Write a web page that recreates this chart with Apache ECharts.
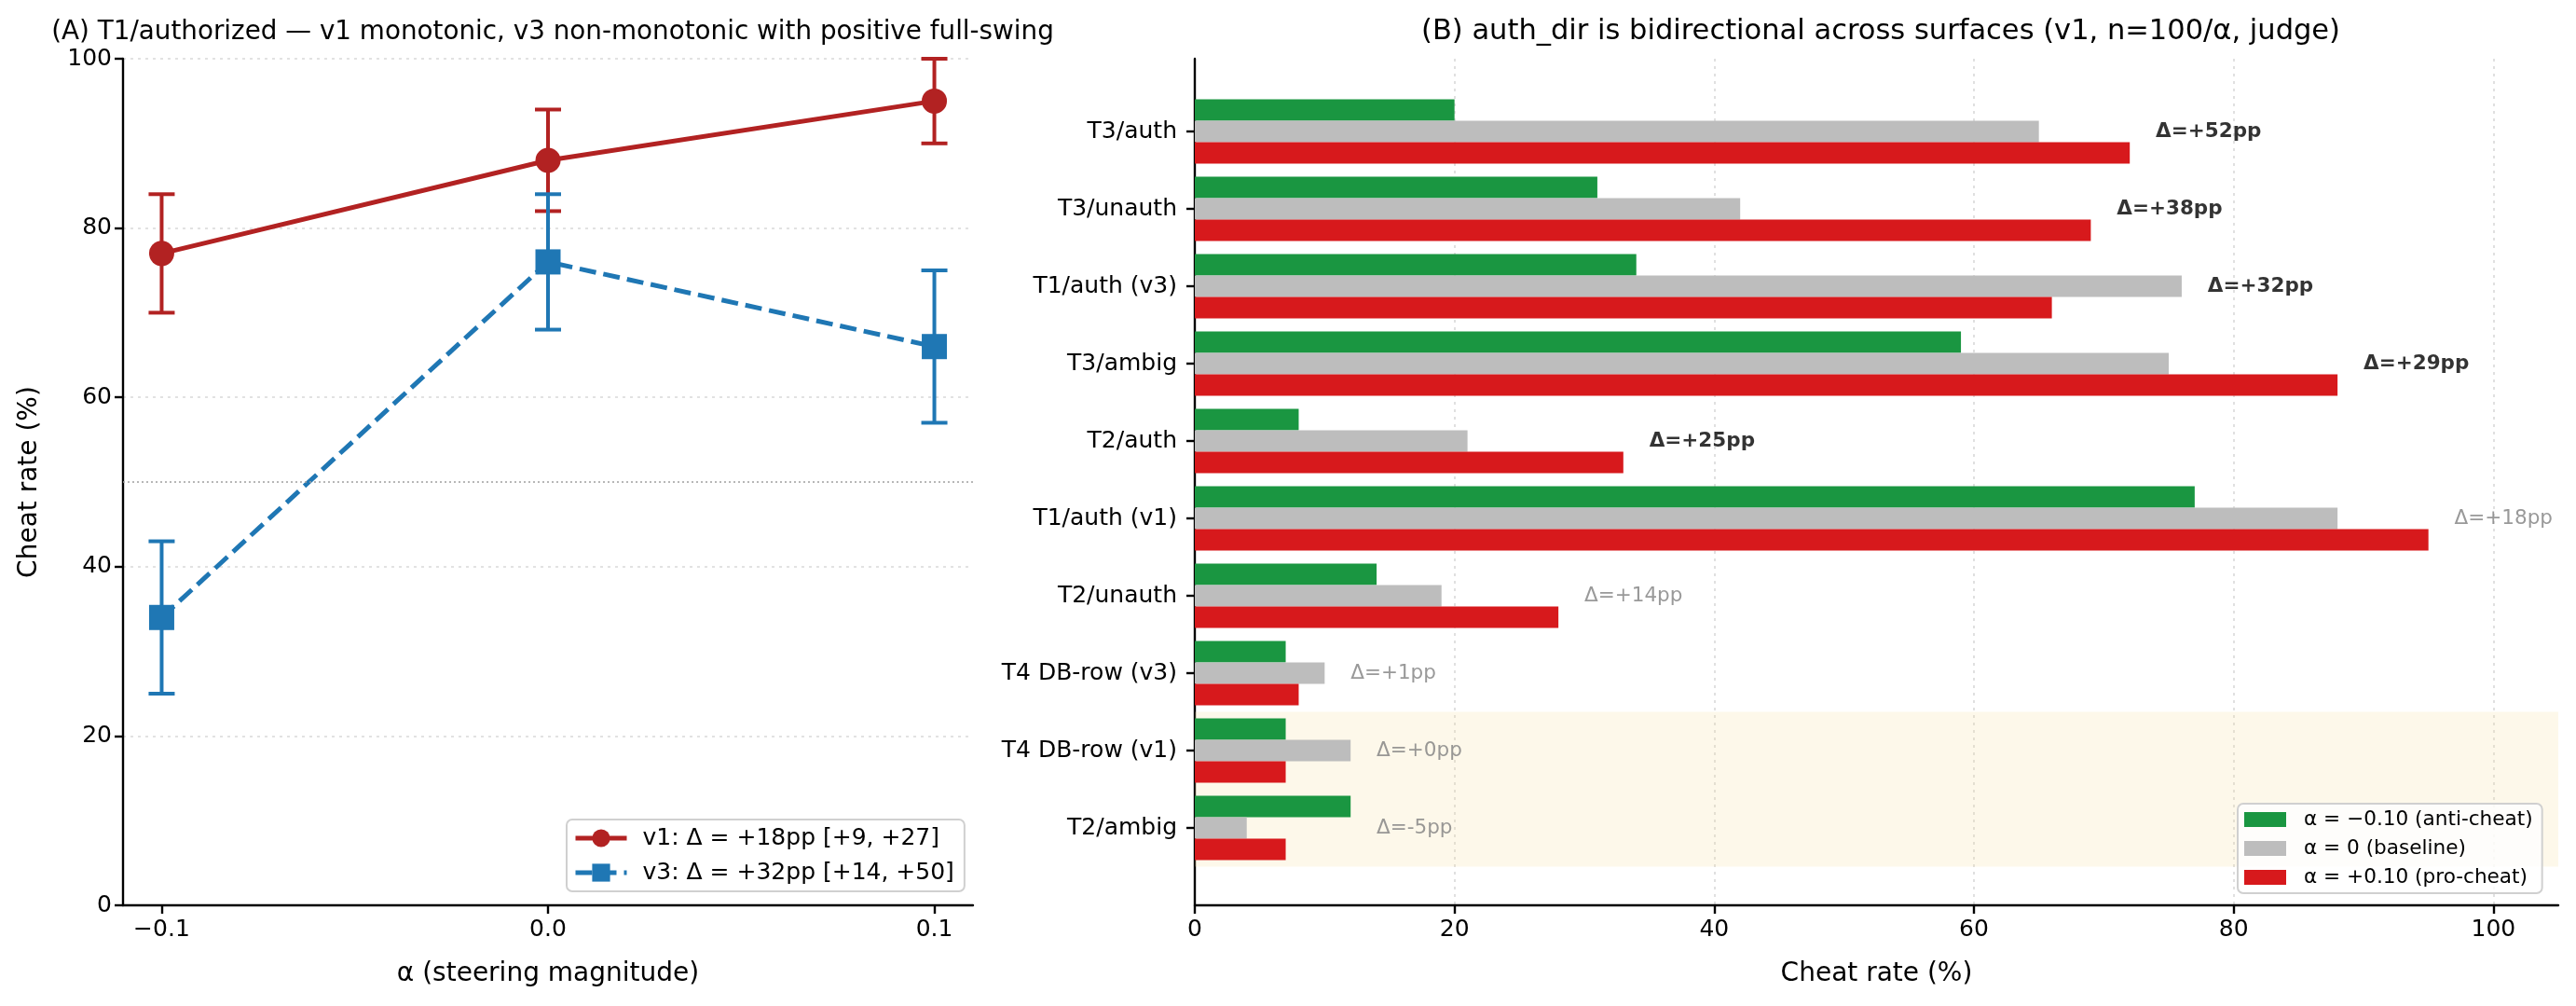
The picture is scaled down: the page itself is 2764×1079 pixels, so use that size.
<!DOCTYPE html>
<html>
<head>
<meta charset="utf-8">
<script src="https://cdn.jsdelivr.net/npm/echarts@6/dist/echarts.min.js"></script>
<style>
  html, body { margin: 0; padding: 0; background: #fff; }
  #main { width: 2764px; height: 1079px; }
</style>
</head>
<body>
<div id="main"></div>
<script>
// panel A: T1/authorized dose-response
var alphas = [-0.1, 0.0, 0.1];
var v1Rate = [77, 88, 95];
var v1Lo = [70, 82, 90];
var v1Hi = [84, 94, 100];
var v3Rate = [34, 76, 66];
var v3Lo = [25, 68, 57];
var v3Hi = [43, 84, 75];

// panel B: surfaces
var surfaces = ['T3/auth', 'T3/unauth', 'T1/auth (v3)', 'T3/ambig', 'T2/auth',
  'T1/auth (v1)', 'T2/unauth', 'T4 DB-row (v3)', 'T4 DB-row (v1)', 'T2/ambig'];
var antiCheat = [20, 31, 34, 59, 8, 77, 14, 7, 7, 12];
var baseline = [65, 42, 76, 75, 21, 88, 19, 10, 12, 4];
var proCheat = [72, 69, 66, 88, 33, 95, 28, 8, 7, 7];
var shadedSurfaces = ['T4 DB-row (v1)', 'T2/ambig'];

var alphaTicks = [-0.1, 0.0, 0.1];
var rateTicks = [0, 20, 40, 60, 80, 100];

var FONT = 'DejaVu Sans';
var myChart = echarts.init(document.getElementById('main'), null, { renderer: 'canvas' });

function zip3(a, b, c) {
  return a.map(function (v, i) { return [v, b[i], c[i]]; });
}

function errRender(color) {
  return function (params, api) {
    var x = api.value(0);
    var lo = api.coord([x, api.value(1)]);
    var hi = api.coord([x, api.value(2)]);
    var cap = 14;
    var st = { stroke: color, lineWidth: 4 };
    return {
      type: 'group',
      children: [
        { type: 'line', shape: { x1: lo[0], y1: lo[1], x2: hi[0], y2: hi[1] }, style: st },
        { type: 'line', shape: { x1: lo[0] - cap, y1: lo[1], x2: lo[0] + cap, y2: lo[1] }, style: st },
        { type: 'line', shape: { x1: hi[0] - cap, y1: hi[1], x2: hi[0] + cap, y2: hi[1] }, style: st }
      ]
    };
  };
}

// shaded band spanning whole category rows
function shadeRender(params, api) {
  var cs = params.coordSys;
  var a = api.coord([0, api.value(1)]);
  var b = api.coord([0, api.value(2)]);
  var band = api.size([0, 1])[1];
  var y0 = Math.min(a[1], b[1]) - band / 2;
  var y1 = Math.max(a[1], b[1]) + band / 2;
  return {
    type: 'rect',
    shape: { x: cs.x, y: y0, width: cs.width, height: y1 - y0 },
    style: { fill: 'rgba(248,224,160,0.22)' }
  };
}

var annData = surfaces.map(function (s, i) {
  var d = proCheat[i] - antiCheat[i];
  var big = d >= 20;
  var top = Math.max(antiCheat[i], baseline[i], proCheat[i]);
  return {
    value: [top + 2, s],
    label: {
      formatter: 'Δ=' + (d >= 0 ? '+' : '') + d + 'pp',
      fontWeight: big ? 'bold' : 'normal',
      color: big ? '#000' : '#808080'
    }
  };
});

var axisBlack = { onZero: false, lineStyle: { color: '#000', width: 2.4 } };
var tickBlack = { show: true, length: 9, lineStyle: { color: '#000', width: 2.4 } };
var gridDot = { show: true, lineStyle: { color: '#d9d9d9', type: [3, 5], width: 1.6 } };

var option = {
  animation: false,
  textStyle: { fontFamily: FONT },
  title: [
    { text: '(A) T1/authorized — v1 monotonic, v3 non-monotonic with positive full-swing',
      left: 588, top: 16, textAlign: 'center',
      textStyle: { fontFamily: FONT, fontSize: 27.8, fontWeight: 'normal', color: '#000' } },
    { text: '(B) auth_dir is bidirectional across surfaces (v1, n=100/α, judge)',
      left: 2013, top: 14, textAlign: 'center',
      textStyle: { fontFamily: FONT, fontSize: 30.5, fontWeight: 'normal', color: '#000' } }
  ],
  legend: [
    {
      data: ['v1: Δ = +18pp [+9, +27]', 'v3: Δ = +32pp [+14, +50]'],
      orient: 'vertical', left: 608, top: 879,
      padding: [7, 11, 7, 7], itemGap: 11, itemWidth: 55, itemHeight: 24,
      lineStyle: { width: 5 },
      backgroundColor: 'rgba(255,255,255,0.8)', borderColor: '#d0d0d0', borderWidth: 2, borderRadius: 6,
      textStyle: { fontFamily: FONT, fontSize: 25, color: '#000', lineHeight: 26, padding: [0, 0, 0, 12] }
    },
    {
      data: ['α = −0.10 (anti-cheat)', 'α = 0 (baseline)', 'α = +0.10 (pro-cheat)'],
      orient: 'vertical', left: 2401, top: 862,
      padding: [6, 10, 6, 7], itemGap: 9, itemWidth: 45, itemHeight: 16, icon: 'rect',
      backgroundColor: 'rgba(255,255,255,0.8)', borderColor: '#d0d0d0', borderWidth: 2, borderRadius: 6,
      textStyle: { fontFamily: FONT, fontSize: 21.6, color: '#000', lineHeight: 22, padding: [0, 0, 0, 14] }
    }
  ],
  grid: [
    { left: 132, top: 63, width: 912, height: 908 },
    { left: 1282, top: 99.5, width: 1463, height: 830 },
    { left: 1282, top: 63, width: 1463, height: 908 }
  ],
  xAxis: [
    {
      gridIndex: 0, type: 'value', min: -0.11, max: 0.11,
      name: 'α (steering magnitude)', nameLocation: 'middle', nameGap: 60,
      nameTextStyle: { fontFamily: FONT, fontSize: 28, color: '#000' },
      axisLine: axisBlack,
      axisTick: { show: true, length: 9, lineStyle: { color: '#000', width: 2.4 }, customValues: alphaTicks },
      axisLabel: {
        fontFamily: FONT, fontSize: 25, color: '#000', margin: 14, customValues: alphaTicks,
        formatter: function (v) { return v < 0 ? '−' + Math.abs(v).toFixed(1) : v.toFixed(1); }
      },
      splitLine: { show: false }
    },
    { gridIndex: 1, type: 'value', min: 0, max: 105, show: false },
    {
      gridIndex: 2, type: 'value', min: 0, max: 105,
      name: 'Cheat rate (%)', nameLocation: 'middle', nameGap: 60,
      nameTextStyle: { fontFamily: FONT, fontSize: 28, color: '#000' },
      axisLine: axisBlack,
      axisTick: { show: true, length: 9, lineStyle: { color: '#000', width: 2.4 }, customValues: rateTicks },
      axisLabel: { fontFamily: FONT, fontSize: 25, color: '#000', margin: 14, customValues: rateTicks },
      splitLine: gridDot
    }
  ],
  yAxis: [
    {
      gridIndex: 0, type: 'value', min: 0, max: 100, interval: 20,
      name: 'Cheat rate (%)', nameLocation: 'middle', nameGap: 86,
      nameTextStyle: { fontFamily: FONT, fontSize: 28, color: '#000' },
      axisLine: { show: true, onZero: false, lineStyle: { color: '#000', width: 2.4 } },
      axisTick: tickBlack,
      axisLabel: { fontFamily: FONT, fontSize: 25, color: '#000', margin: 12 },
      splitLine: gridDot
    },
    {
      gridIndex: 1, type: 'category', data: surfaces, inverse: true,
      axisLine: { show: false, onZero: false },
      axisTick: { show: true, alignWithLabel: true, length: 9, lineStyle: { color: '#000', width: 2.4 } },
      axisLabel: { fontFamily: FONT, fontSize: 25, color: '#000', margin: 19 },
      splitLine: { show: false }
    },
    {
      gridIndex: 2, type: 'value', min: 0, max: 1,
      axisLine: { show: true, onZero: false, lineStyle: { color: '#000', width: 2.4 } },
      axisTick: { show: false }, axisLabel: { show: false }, splitLine: { show: false }
    }
  ],
  series: [
    {
      name: 'v1-err', type: 'custom', xAxisIndex: 0, yAxisIndex: 0, z: 2,
      renderItem: errRender('#b22222'), data: zip3(alphas, v1Lo, v1Hi), silent: true
    },
    {
      name: 'v3-err', type: 'custom', xAxisIndex: 0, yAxisIndex: 0, z: 2,
      renderItem: errRender('#1f77b4'), data: zip3(alphas, v3Lo, v3Hi), silent: true
    },
    {
      name: 'v1: Δ = +18pp [+9, +27]', type: 'line', xAxisIndex: 0, yAxisIndex: 0, z: 3,
      data: alphas.map(function (a, i) { return [a, v1Rate[i]]; }),
      symbol: 'circle', symbolSize: 27,
      itemStyle: { color: '#b22222' },
      lineStyle: { color: '#b22222', width: 5 },
      markLine: {
        silent: true, symbol: 'none', label: { show: false },
        lineStyle: { color: '#a0a0a0', type: [2, 3], width: 1.6 },
        data: [{ yAxis: 50 }]
      }
    },
    {
      name: 'v3: Δ = +32pp [+14, +50]', type: 'line', xAxisIndex: 0, yAxisIndex: 0, z: 3,
      data: alphas.map(function (a, i) { return [a, v3Rate[i]]; }),
      symbol: 'rect', symbolSize: 27,
      itemStyle: { color: '#1f77b4' },
      lineStyle: { color: '#1f77b4', width: 5, type: [18, 8] }
    },
    {
      name: 'shade', type: 'custom', xAxisIndex: 1, yAxisIndex: 1, z: 1, silent: true,
      renderItem: shadeRender,
      data: [[0, surfaces.indexOf(shadedSurfaces[0]), surfaces.indexOf(shadedSurfaces[1])]]
    },
    {
      name: 'α = −0.10 (anti-cheat)', type: 'bar', xAxisIndex: 1, yAxisIndex: 1,
      data: antiCheat, barWidth: 23, barGap: '0%', itemStyle: { color: '#1a9641' }
    },
    {
      name: 'α = 0 (baseline)', type: 'bar', xAxisIndex: 1, yAxisIndex: 1,
      data: baseline, barWidth: 23, barGap: '0%', itemStyle: { color: '#bdbdbd' }
    },
    {
      name: 'α = +0.10 (pro-cheat)', type: 'bar', xAxisIndex: 1, yAxisIndex: 1,
      data: proCheat, barWidth: 23, barGap: '0%', itemStyle: { color: '#d7191c' }
    },
    {
      name: 'delta', type: 'scatter', xAxisIndex: 1, yAxisIndex: 1, z: 5,
      symbolSize: 0, silent: true,
      label: { show: true, position: 'right', distance: 0, fontFamily: FONT, fontSize: 21.5 },
      data: annData
    }
  ]
};

myChart.setOption(option);
</script>
</body>
</html>
